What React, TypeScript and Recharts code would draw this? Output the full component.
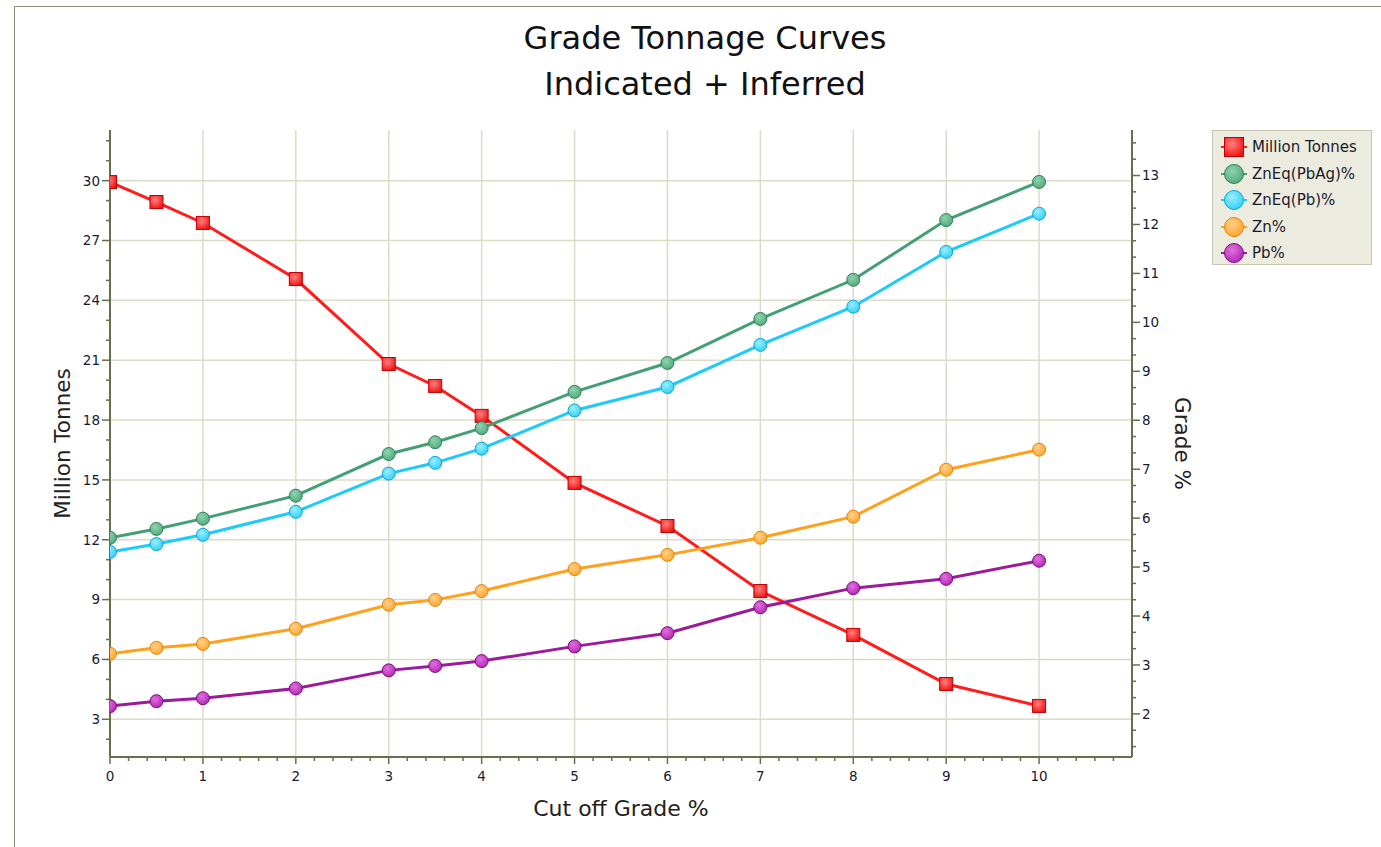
import React from 'react';
import { CartesianGrid, Label, Line, LineChart, XAxis, YAxis } from 'recharts';

// Grade tonnage curves: tonnes on the left axis, grades on the right one.

const cutoffGrade = [0, 0.5, 1, 2, 3, 3.5, 4, 5, 6, 7, 8, 9, 10];
const millionTonnes = [29.93, 28.93, 27.88, 25.07, 20.81, 19.71, 18.21, 14.85, 12.69, 9.43, 7.23, 4.77, 3.67];
const znEqPbAg = [5.6, 5.78, 5.99, 6.46, 7.31, 7.55, 7.84, 8.58, 9.17, 10.07, 10.87, 12.09, 12.87];
const znEqPb = [5.31, 5.47, 5.66, 6.13, 6.91, 7.13, 7.42, 8.2, 8.68, 9.54, 10.32, 11.44, 12.22];
const znGrade = [3.23, 3.35, 3.43, 3.74, 4.23, 4.33, 4.51, 4.96, 5.25, 5.6, 6.03, 6.99, 7.4];
const pbGrade = [2.16, 2.26, 2.32, 2.52, 2.89, 2.98, 3.08, 3.38, 3.65, 4.18, 4.57, 4.76, 5.13];

const xMajorTicks = [0, 1, 2, 3, 4, 5, 6, 7, 8, 9, 10];
const leftMajorTicks = [3, 6, 9, 12, 15, 18, 21, 24, 27, 30];
const rightMajorTicks = [2, 3, 4, 5, 6, 7, 8, 9, 10, 11, 12, 13];

const X_DOMAIN: [number, number] = [0, 11];
const LEFT_DOMAIN: [number, number] = [1.11, 32.54];
const RIGHT_DOMAIN: [number, number] = [1.12, 13.93];

const AXIS = '#66704a';
const GRID = '#dcdcc6';
const TICK_TEXT = '#1a1a36';
const FONT = '"DejaVu Sans", Verdana, sans-serif';

function steps(from: number, to: number, step: number): number[] {
  const out: number[] = [];
  for (let i = 0; from + i * step <= to + 1e-9; i++) out.push(+(from + i * step).toFixed(4));
  return out;
}

const xTicks = steps(0, 10.8, 0.2);
const leftTicks = steps(2, 32, 1);
const rightTicks = steps(4 / 3, 41 / 3, 1 / 3);

const isMajor = (v: number, majors: number[]) => majors.some((m) => Math.abs(m - v) < 1e-3);

type SeriesDef = {
  key: string;
  name: string;
  values: number[];
  axis: 'left' | 'right';
  line: string;
  light: string;
  fill: string;
  edge: string;
  shape: 'square' | 'circle';
};

const SERIES: SeriesDef[] = [
  { key: 'tonnes', name: 'Million Tonnes', values: millionTonnes, axis: 'left', line: '#ff1c1c', light: '#ff8080', fill: '#f01414', edge: '#c00000', shape: 'square' },
  { key: 'znEqPbAg', name: 'ZnEq(PbAg)%', values: znEqPbAg, axis: 'right', line: '#44a074', light: '#8ed3ae', fill: '#4fa97b', edge: '#347f58', shape: 'circle' },
  { key: 'znEqPb', name: 'ZnEq(Pb)%', values: znEqPb, axis: 'right', line: '#1ecaf6', light: '#9beeff', fill: '#2ccff8', edge: '#12a6d2', shape: 'circle' },
  { key: 'zn', name: 'Zn%', values: znGrade, axis: 'right', line: '#ffa11c', light: '#ffd08a', fill: '#ffa52c', edge: '#e0850c', shape: 'circle' },
  { key: 'pb', name: 'Pb%', values: pbGrade, axis: 'right', line: '#9b1b9b', light: '#e070e0', fill: '#b324b3', edge: '#7a0f7a', shape: 'circle' },
];

const data = cutoffGrade.map((c, i) => {
  const row: Record<string, number> = { cutoff: c };
  for (const s of SERIES) row[s.key] = s.values[i];
  return row;
});

function renderLeftTick(p: any) {
  const { x, y, payload } = p;
  const major = isMajor(payload.value, leftMajorTicks);
  return (
    <g>
      <line x1={x - (major ? 8 : 4)} x2={x} y1={y} y2={y} stroke={AXIS} strokeWidth={1.5} />
      {major && (
        <text x={x - 10} y={y} dy="0.36em" textAnchor="end" fontSize={13.5} fontFamily={FONT} fill={TICK_TEXT}>
          {payload.value}
        </text>
      )}
    </g>
  );
}

function renderRightTick(p: any) {
  const { x, y, payload } = p;
  const major = isMajor(payload.value, rightMajorTicks);
  return (
    <g>
      <line x1={x} x2={x + (major ? 8 : 4)} y1={y} y2={y} stroke={AXIS} strokeWidth={1.5} />
      {major && (
        <text x={x + 10} y={y} dy="0.36em" textAnchor="start" fontSize={13.5} fontFamily={FONT} fill={TICK_TEXT}>
          {Math.round(payload.value)}
        </text>
      )}
    </g>
  );
}

function renderBottomTick(p: any) {
  const { x, y, payload } = p;
  const major = isMajor(payload.value, xMajorTicks);
  return (
    <g>
      <line x1={x} x2={x} y1={y} y2={y + (major ? 7 : 4)} stroke={AXIS} strokeWidth={1.5} />
      {major && (
        <text x={x} y={y + 19} dy="0.36em" textAnchor="middle" fontSize={13.5} fontFamily={FONT} fill={TICK_TEXT}>
          {Math.round(payload.value)}
        </text>
      )}
    </g>
  );
}

function makeDot(s: SeriesDef) {
  return (props: any) => {
    const { cx, cy, index } = props;
    const k = `dot-${s.key}-${index}`;
    if (cx == null || cy == null) return <g key={k} />;
    if (s.shape === 'square') {
      return (
        <rect key={k} x={cx - 6.5} y={cy - 6.5} width={13} height={13} fill={`url(#grad-${s.key})`} stroke={s.edge} strokeWidth={1} />
      );
    }
    return <circle key={k} cx={cx} cy={cy} r={6.5} fill={`url(#grad-${s.key})`} stroke={s.edge} strokeWidth={1} />;
  };
}

function LegendMarker({ s }: { s: SeriesDef }) {
  return (
    <svg width={30} height={24} style={{ display: 'block' }}>
      <defs>
        <radialGradient id={`lgrad-${s.key}`} cx="40%" cy="35%" r="70%">
          <stop offset="0%" stopColor={s.light} />
          <stop offset="100%" stopColor={s.fill} />
        </radialGradient>
      </defs>
      <line x1={2} x2={28} y1={12} y2={12} stroke={s.line} strokeWidth={2} />
      {s.shape === 'square' ? (
        <rect x={5.5} y={2.5} width={19} height={19} fill={`url(#lgrad-${s.key})`} stroke={s.edge} strokeWidth={1} />
      ) : (
        <circle cx={15} cy={12} r={9.5} fill={`url(#lgrad-${s.key})`} stroke={s.edge} strokeWidth={1} />
      )}
    </svg>
  );
}

export default function App() {
  return (
    <div style={{ position: 'absolute', left: 0, top: 0, width: 1381, height: 847, background: '#fff', overflow: 'hidden', fontFamily: FONT }}>
      <div
        style={{
          position: 'absolute',
          left: 14,
          top: 6,
          right: 0,
          bottom: 0,
          borderLeft: '1px solid #8e8e7c',
          borderTop: '1px solid #8e8e7c',
        }}
      />
      <div
        style={{
          position: 'absolute',
          left: 405,
          top: 15,
          width: 600,
          textAlign: 'center',
          fontSize: 32,
          lineHeight: '46px',
          color: '#111',
        }}
      >
        <div>Grade Tonnage Curves</div>
        <div>Indicated + Inferred</div>
      </div>

      <div style={{ position: 'absolute', left: 0, top: 0 }}>
        <LineChart width={1381} height={847} data={data} margin={{ top: 130, right: 0, bottom: 0, left: 0 }}>
          <defs>
            {SERIES.map((s) => (
              <radialGradient key={s.key} id={`grad-${s.key}`} cx="40%" cy="35%" r="70%">
                <stop offset="0%" stopColor={s.light} />
                <stop offset="100%" stopColor={s.fill} />
              </radialGradient>
            ))}
          </defs>
          <CartesianGrid
            yAxisId="left"
            stroke={GRID}
            strokeWidth={1.5}
            horizontalValues={leftMajorTicks}
            verticalValues={xMajorTicks.filter((v) => v > 0)}
          />
          <XAxis
            dataKey="cutoff"
            type="number"
            domain={X_DOMAIN}
            ticks={xTicks}
            interval={0}
            height={90}
            tickSize={0}
            tickMargin={0}
            tickLine={false}
            axisLine={{ stroke: AXIS, strokeWidth: 2 }}
            tick={renderBottomTick}
            allowDataOverflow
          >
            <Label
              content={({ viewBox }: any) => (
                <text x={viewBox.x + viewBox.width / 2} y={viewBox.y + 51} dy="0.36em" textAnchor="middle" fontSize={22} fontFamily={FONT} fill="#222">
                  Cut off Grade %
                </text>
              )}
            />
          </XAxis>
          <YAxis
            yAxisId="left"
            orientation="left"
            type="number"
            domain={LEFT_DOMAIN}
            ticks={leftTicks}
            interval={0}
            width={110}
            tickSize={0}
            tickMargin={0}
            tickLine={false}
            axisLine={{ stroke: AXIS, strokeWidth: 2 }}
            tick={renderLeftTick}
            allowDataOverflow
          >
            <Label
              content={({ viewBox }: any) => {
                const cx = viewBox.x + 62;
                const cy = viewBox.y + viewBox.height / 2;
                return (
                  <text x={cx} y={cy} dy="0.36em" textAnchor="middle" fontSize={21.5} fontFamily={FONT} fill="#222" transform={`rotate(-90, ${cx}, ${cy})`}>
                    Million Tonnes
                  </text>
                );
              }}
            />
          </YAxis>
          <YAxis
            yAxisId="right"
            orientation="right"
            type="number"
            domain={RIGHT_DOMAIN}
            ticks={rightTicks}
            interval={0}
            width={249}
            tickSize={0}
            tickMargin={0}
            tickLine={false}
            axisLine={{ stroke: AXIS, strokeWidth: 2 }}
            tick={renderRightTick}
            allowDataOverflow
          >
            <Label
              content={({ viewBox }: any) => {
                const cx = viewBox.x + 51;
                const cy = viewBox.y + viewBox.height / 2;
                return (
                  <text x={cx} y={cy} dy="0.36em" textAnchor="middle" fontSize={21.5} fontFamily={FONT} fill="#222" transform={`rotate(90, ${cx}, ${cy})`}>
                    Grade %
                  </text>
                );
              }}
            />
          </YAxis>
          {SERIES.map((s) => (
            <Line
              key={s.key}
              yAxisId={s.axis}
              dataKey={s.key}
              name={s.name}
              type="linear"
              stroke={s.line}
              strokeWidth={3}
              dot={makeDot(s)}
              activeDot={false}
              isAnimationActive={false}
            />
          ))}
        </LineChart>
      </div>

      <div
        style={{
          position: 'absolute',
          left: 1212,
          top: 130,
          width: 160,
          height: 135,
          background: '#ecebdf',
          border: '1.5px solid #c6c6aa',
          padding: '3px 0 0 6px',
          boxSizing: 'border-box',
        }}
      >
        {SERIES.map((s) => (
          <div key={s.key} style={{ display: 'flex', alignItems: 'center', height: 26.5 }}>
            <LegendMarker s={s} />
            <span style={{ marginLeft: 3, fontSize: 15, color: '#1a1a2a', whiteSpace: 'nowrap' }}>{s.name}</span>
          </div>
        ))}
      </div>
    </div>
  );
}
